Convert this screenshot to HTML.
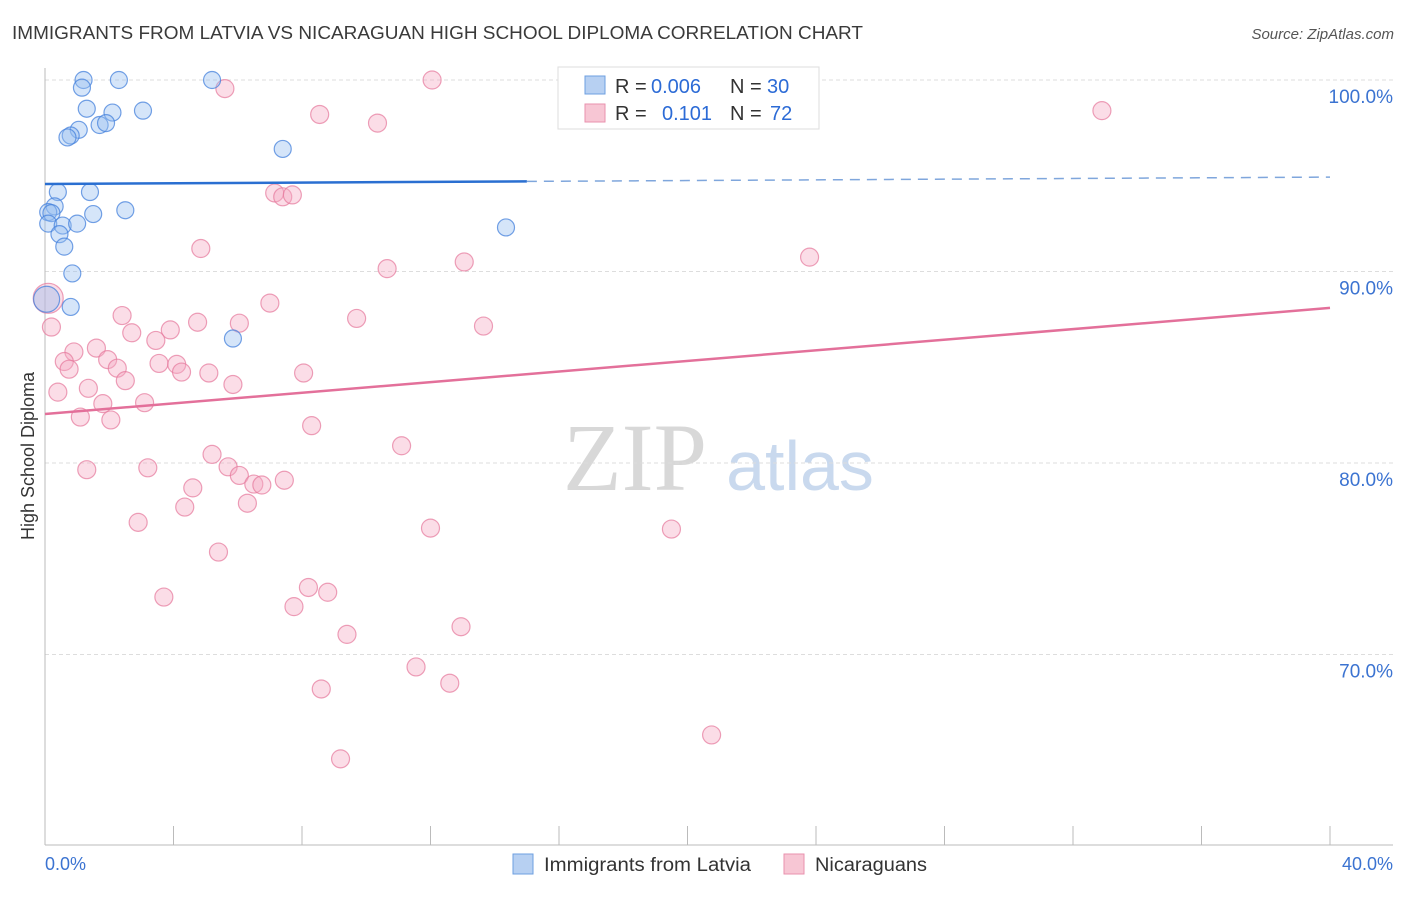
<!DOCTYPE html>
<html><head><meta charset="utf-8"><style>
body{margin:0;background:#fff;font-family:"Liberation Sans",sans-serif}
</style></head><body>
<svg id="chart" width="1406" height="892" viewBox="0 0 1406 892" xmlns="http://www.w3.org/2000/svg" font-family="Liberation Sans, sans-serif">
<text x="12" y="39" font-size="18" fill="#3a3a3a" textLength="851" lengthAdjust="spacingAndGlyphs">IMMIGRANTS FROM LATVIA VS NICARAGUAN HIGH SCHOOL DIPLOMA CORRELATION CHART</text>
<text x="1394" y="39" font-size="15" fill="#555" font-style="italic" text-anchor="end">Source: ZipAtlas.com</text>
<g>
<text x="635" y="490" font-size="96" fill="#d8d8d8" text-anchor="middle" font-family="Liberation Serif, serif">ZIP</text>
<text x="800" y="490" font-size="70" fill="#c9d9ee" text-anchor="middle">atlas</text>
</g>
<g id="grid"></g><g id="axes"></g><g id="marks"></g>
<text transform="translate(34,456) rotate(-90)" font-size="18" fill="#333" text-anchor="middle">High School Diploma</text>
<g>
<rect x="558" y="67" width="261" height="62" fill="#fff" stroke="#ddd"/>
<rect x="585" y="76" width="20" height="18" fill="#b7d0f2" stroke="#6e9fe0"/>
<rect x="585" y="104" width="20" height="18" fill="#f7c6d4" stroke="#e991ae"/>
<text x="615" y="93" font-size="20" fill="#333">R =</text>
<text x="651" y="93" font-size="20" fill="#2c6bd6">0.006</text>
<text x="730" y="93" font-size="20" fill="#333">N =</text>
<text x="767" y="93" font-size="20" fill="#2c6bd6">30</text>
<text x="615" y="120" font-size="20" fill="#333">R =</text>
<text x="662" y="120" font-size="20" fill="#2c6bd6">0.101</text>
<text x="730" y="120" font-size="20" fill="#333">N =</text>
<text x="770" y="120" font-size="20" fill="#2c6bd6">72</text>
</g>
<g>
<rect x="513" y="854" width="20" height="20" fill="#b7d0f2" stroke="#6e9fe0"/>
<text x="544" y="871" font-size="19" fill="#333" textLength="207" lengthAdjust="spacingAndGlyphs">Immigrants from Latvia</text>
<rect x="784" y="854" width="20" height="20" fill="#f7c6d4" stroke="#e991ae"/>
<text x="815" y="871" font-size="19" fill="#333" textLength="112" lengthAdjust="spacingAndGlyphs">Nicaraguans</text>
</g>
</svg>
<script>
const blueX=[1.2,2.3,5.2,1.15,1.3,2.1,3.05,1.05,1.7,1.9,0.8,0.7,7.4,0.4,1.4,0.3,0.1,0.2,1.5,2.5,0.1,0.55,1.0,0.45,0.6,0.85,14.35,0.8,5.85,0.05];
const blueY=[100,100,100,99.6,98.5,98.3,98.4,97.4,97.65,97.75,97.1,97.0,96.4,94.15,94.15,93.4,93.1,93.05,93.0,93.2,92.5,92.4,92.5,91.95,91.3,89.9,92.3,88.15,86.5,88.55];
const pinkX=[12.05,21.85,16.9,5.6,8.55,10.35,32.9,7.15,7.4,7.7,4.85,10.65,13.05,23.8,0.1,7.0,2.4,0.2,4.75,6.05,9.7,13.65,2.7,3.9,3.45,1.6,0.9,1.95,0.6,0.75,2.25,3.55,4.1,4.25,5.1,8.05,2.5,5.85,0.4,1.35,3.1,1.8,1.1,2.05,8.3,11.1,1.3,3.2,5.2,5.7,6.05,4.6,6.5,6.75,7.45,4.35,6.3,2.9,12.0,19.5,5.4,3.7,8.2,8.8,7.75,9.4,12.95,11.55,8.6,12.6,20.75,9.2];
const pinkY=[100,100,100,99.55,98.2,97.75,98.4,94.1,93.9,94.0,91.2,90.15,90.5,90.75,88.6,88.35,87.7,87.1,87.35,87.3,87.55,87.15,86.8,86.95,86.4,86.0,85.8,85.4,85.3,84.9,84.95,85.2,85.15,84.75,84.7,84.7,84.3,84.1,83.7,83.9,83.15,83.1,82.4,82.25,81.95,80.9,79.65,79.75,80.45,79.8,79.35,78.7,78.9,78.85,79.1,77.7,77.9,76.9,76.6,76.55,75.35,73.0,73.5,73.25,72.5,71.05,71.45,69.35,68.2,68.5,65.8,64.55];
const blueBig=[29];
const pinkBig=[14];
const blueTrend=[94.57,94.93];
const pinkTrend=[82.56,88.1];
const yTicks=[100,90,80,70];
const yTickLabels=["100.0%","90.0%","80.0%","70.0%"];
const xTicks=[0,4,8,12,16,20,24,28,32,36,40];
const NS="http://www.w3.org/2000/svg";
const sx=v=>45+v*32.125;
const sy=v=>80+(100-v)*19.15;
function mk(tag,attrs,parent){const e=document.createElementNS(NS,tag);for(const k in attrs)e.setAttribute(k,attrs[k]);document.getElementById(parent).appendChild(e);return e;}
yTicks.forEach((t,i)=>{
 const g=mk('line',{x1:45,x2:1393,y1:sy(t),y2:sy(t),stroke:'#ddd','stroke-dasharray':'4,3'},'grid');
 
 
 const l=mk('text',{x:1393,y:sy(t)+23,'font-size':19,fill:'#3b73d1','text-anchor':'end'},'axes');
 l.textContent=yTickLabels[i];
 
 
});
const ax=mk('line',{x1:45,x2:1393,y1:845,y2:845,stroke:'#bbb'},'axes');


const ay=mk('line',{x1:45,x2:45,y1:68,y2:845,stroke:'#bbb'},'axes');


xTicks.forEach(t=>{
 const k=mk('line',{x1:sx(t),x2:sx(t),y1:826,y2:845,stroke:'#bbb'},'axes');
 
 
});
const x0=mk('text',{x:45,y:870,'font-size':18,fill:'#3b73d1'},'axes');x0.textContent='0.0%';


const x1=mk('text',{x:1393,y:870,'font-size':18,fill:'#3b73d1','text-anchor':'end'},'axes');x1.textContent='40.0%';


pinkX.forEach((x,i)=>{
 const c=mk('circle',{cx:sx(x),cy:sy(pinkY[i]),r:pinkBig.includes(i)?15:9,fill:'rgba(244,170,194,0.4)',stroke:'rgba(230,120,155,0.7)','stroke-width':1.2},'marks');
 
 
});
blueX.forEach((x,i)=>{
 const c=mk('circle',{cx:sx(x),cy:sy(blueY[i]),r:blueBig.includes(i)?13:8.5,fill:'rgba(150,190,240,0.4)',stroke:'rgba(70,130,220,0.75)','stroke-width':1.2},'marks');
 
 
});
const bt=v=>blueTrend[0]+(blueTrend[1]-blueTrend[0])*v/40;
const b1=mk('line',{x1:sx(0),y1:sy(bt(0)),x2:sx(15),y2:sy(bt(15)),stroke:'#2a6fd1','stroke-width':2.5},'marks');


const b2=mk('line',{x1:sx(15),y1:sy(bt(15)),x2:sx(40),y2:sy(bt(40)),stroke:'#7fa6dc','stroke-width':1.5,'stroke-dasharray':'10,7'},'marks');


const p1=mk('line',{x1:sx(0),y1:sy(pinkTrend[0]),x2:sx(40),y2:sy(pinkTrend[1]),stroke:'#e3709a','stroke-width':2.5},'marks');


</script>
</body></html>
